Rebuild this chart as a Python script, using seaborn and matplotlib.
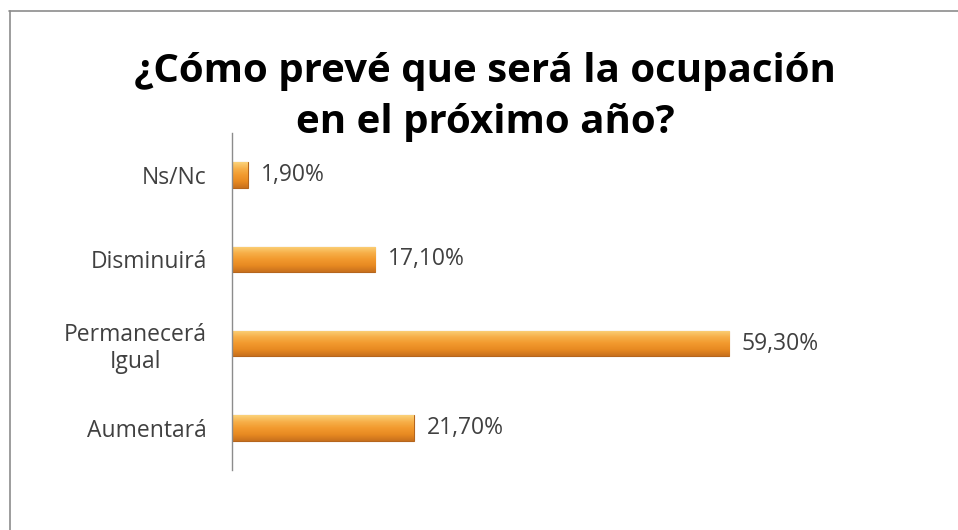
import matplotlib
matplotlib.use("Agg")
import matplotlib.pyplot as plt
import seaborn as sns
import pandas as pd
import numpy as np
from matplotlib.lines import Line2D
from matplotlib.colors import LinearSegmentedColormap

categories = ["Ns/Nc", "Disminuirá", "Permanecerá\nIgual", "Aumentará"]
values = [1.90, 17.10, 59.30, 21.70]
value_labels = ["1,90%", "17,10%", "59,30%", "21,70%"]
title = "¿Cómo prevé que será la ocupación\nen el próximo año?"

sns.set_theme(style="white")
plt.rcParams['font.family'] = ['Open Sans', 'DejaVu Sans']

df = pd.DataFrame({"cat": categories, "val": values})

fig = plt.figure(figsize=(9.58, 5.30), dpi=100)
ax = fig.add_axes([232/958, 60/530, 0.70, 337/530])

sns.barplot(data=df, y="cat", x="val", orient="h", ax=ax, color="#F29A2E",
            width=0.30, edgecolor="#B5651D", linewidth=0.8, saturation=1)

ax.set_xlim(0, 80)
ax.set_ylim(3.5, -0.5)

# gradient fill for bars (top light -> orange -> darker bottom)
cmap = LinearSegmentedColormap.from_list(
    "bar", ["#FBD27A", "#F7B04A", "#F29A2E", "#E88A22", "#C8701C"])
grad = np.linspace(0, 1, 64).reshape(-1, 1)
for p in ax.patches:
    x0, y0 = p.get_x(), p.get_y()
    w, h = p.get_width(), p.get_height()
    im = ax.imshow(grad, cmap=cmap, aspect="auto",
                   extent=[x0, x0 + w, y0, y0 + h], origin="lower", zorder=p.get_zorder() + 0.1)
    im.set_clip_path(p)
ax.set_xlim(0, 80)
ax.set_ylim(3.5, -0.5)

ax.set_xlabel("")
ax.set_ylabel("")
ax.set_xticks([])
for s in ["top", "right", "bottom"]:
    ax.spines[s].set_visible(False)
ax.spines["left"].set_color("#8C8C8C")
ax.spines["left"].set_linewidth(1.0)
ax.tick_params(axis="y", length=0, pad=18, labelsize=16.5, labelcolor="#404040")
for lbl in ax.get_yticklabels():
    lbl.set_multialignment("center")

for i, (v, t) in enumerate(zip(values, value_labels)):
    ax.annotate(t, (v, i), xytext=(9, 0), textcoords="offset points",
                va="center", ha="left", fontsize=16.5, color="#404040")

fig.text(485/958, 1 - 97/530, title, ha="center", va="center",
         fontsize=29, fontweight="bold", color="#000000", linespacing=1.42)

fig.add_artist(Line2D([9/958, 1], [1 - 10.5/530, 1 - 10.5/530], transform=fig.transFigure,
                      color="#8C8C8C", linewidth=1.2))
fig.add_artist(Line2D([9.5/958, 9.5/958], [0, 1 - 10.5/530], transform=fig.transFigure,
                      color="#8C8C8C", linewidth=1.2))

fig.savefig("out.png", dpi=100)
